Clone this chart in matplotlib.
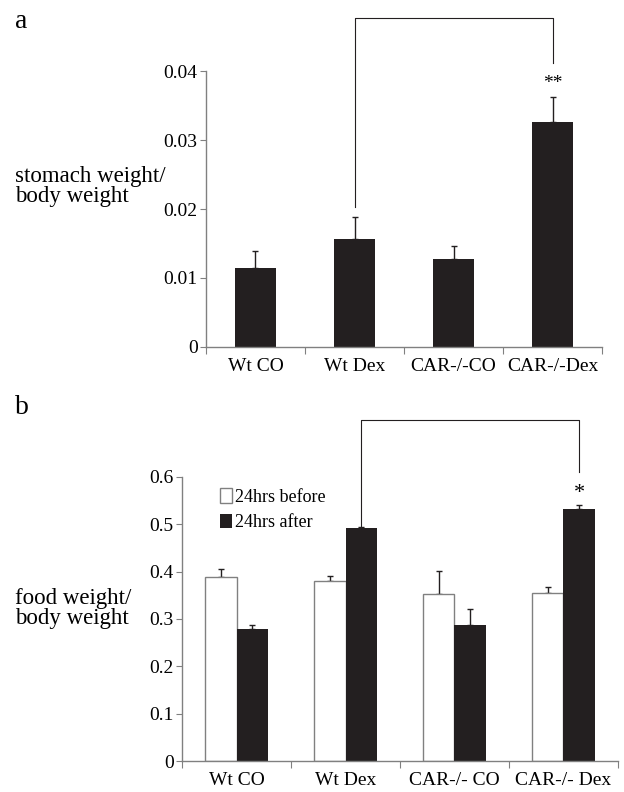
import matplotlib
matplotlib.use('Agg')
import matplotlib.pyplot as plt
import numpy as np

plt.rcParams['font.family'] = ['Liberation Serif', 'DejaVu Serif']
plt.rcParams['font.size'] = 14

# panel a
groups_a = ['Wt CO', 'Wt Dex', 'CAR-/-CO', 'CAR-/-Dex']
stomach = [0.01145, 0.01565, 0.01275, 0.0327]
stomach_err = [0.00245, 0.00315, 0.0019, 0.0035]

# panel b
groups_b = ['Wt CO', 'Wt Dex', 'CAR-/- CO', 'CAR-/- Dex']
food_before = [0.389, 0.380, 0.353, 0.355]
food_before_err = [0.017, 0.011, 0.049, 0.013]
food_after = [0.279, 0.492, 0.2875, 0.533]
food_after_err = [0.0085, 0.003, 0.0345, 0.008]

dark = '#231f20'
axc = '#808080'

fig = plt.figure(figsize=(6.24, 7.92), dpi=100)


def style_axes(ax, n):
    for s in ['top', 'right']:
        ax.spines[s].set_visible(False)
    for s in ['left', 'bottom']:
        ax.spines[s].set_color(axc)
        ax.spines[s].set_linewidth(1)
    ax.set_xlim(-0.5, n - 0.5)
    ax.set_xticks(np.arange(n + 1) - 0.5)
    ax.set_xticklabels([])
    ax.tick_params(axis='x', which='major', direction='out', length=5, color=axc)
    ax.tick_params(axis='x', which='minor', length=0, pad=8)
    ax.tick_params(axis='y', direction='out', length=4, color=axc, pad=2)


# ---- a ----
ax1 = fig.add_axes([0.330, 0.562, 0.635, 0.348])
x = np.arange(len(groups_a))
ax1.bar(x, stomach, width=0.42, color=dark, zorder=2)
ax1.errorbar(x, stomach, yerr=[np.zeros(len(x)), stomach_err], fmt='none',
             ecolor=dark, elinewidth=1, capsize=2, capthick=1, zorder=1)
style_axes(ax1, len(groups_a))
ax1.set_ylim(0, 0.04)
ax1.set_yticks([0, 0.01, 0.02, 0.03, 0.04])
ax1.set_yticklabels(['0', '0.01', '0.02', '0.03', '0.04'])
ax1.set_xticks(x, minor=True)
ax1.set_xticklabels(groups_a, minor=True)
# bracket
ax1.plot([1, 1, 3, 3], [0.0203, 0.0477, 0.0477, 0.0412], color=dark,
         lw=0.8, clip_on=False)
ax1.text(3, 0.0382, '**', ha='center', va='center', fontsize=14)

# ---- b ----
ax2 = fig.add_axes([0.292, 0.039, 0.698, 0.359])
x = np.arange(len(groups_b))
w = 0.29
ax2.bar(x - w / 2, food_before, width=w, color='white', edgecolor=axc,
        linewidth=1, zorder=2, label='24hrs before')
ax2.bar(x + w / 2, food_after, width=w, color=dark, zorder=2,
        label='24hrs after')
ax2.errorbar(x - w / 2, food_before, yerr=[np.zeros(len(x)), food_before_err],
             fmt='none', ecolor=dark, elinewidth=1, capsize=2, capthick=1, zorder=1)
ax2.errorbar(x + w / 2, food_after, yerr=[np.zeros(len(x)), food_after_err],
             fmt='none', ecolor=dark, elinewidth=1, capsize=2, capthick=1, zorder=1)
style_axes(ax2, len(groups_b))
ax2.set_ylim(0, 0.6)
ax2.set_yticks(np.arange(0, 0.61, 0.1))
ax2.set_yticklabels(['0', '0.1', '0.2', '0.3', '0.4', '0.5', '0.6'])
ax2.set_xticks(x, minor=True)
ax2.set_xticklabels(groups_b, minor=True)
ax2.plot([1 + w / 2, 1 + w / 2, 3 + w / 2, 3 + w / 2],
         [0.495, 0.719, 0.719, 0.611], color=dark, lw=0.8, clip_on=False)
ax2.text(3 + w / 2, 0.565, '*', ha='center', va='center', fontsize=16)
leg = ax2.legend(loc='upper left', bbox_to_anchor=(0.07, 0.985), frameon=False,
                 handlelength=0.65, handleheight=0.85, handletextpad=0.2,
                 labelspacing=0.45, fontsize=13, borderaxespad=0)

# panel letters and y labels
fig.text(0.024, 0.973, 'a', fontsize=20, va='center')
fig.text(0.024, 0.485, 'b', fontsize=20, va='center')
fig.text(0.024, 0.765, 'stomach weight/\nbody weight', fontsize=16.5,
         va='center', linespacing=0.95)
fig.text(0.024, 0.232, 'food weight/\nbody weight', fontsize=16.5,
         va='center', linespacing=0.95)

fig.savefig('out.png', dpi=100)
